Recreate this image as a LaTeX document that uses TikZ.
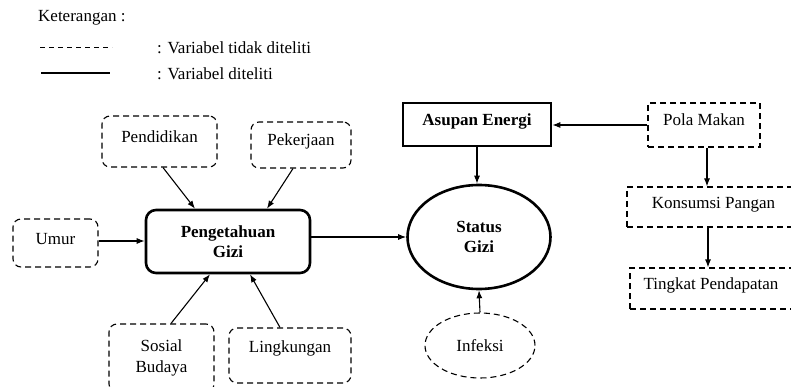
\documentclass[tikz,border=0pt]{standalone}
\usepackage{fontspec}
\setmainfont{Liberation Serif}
\usetikzlibrary{arrows.meta,shapes.geometric}
\tikzset{
  base/.style={font=\fontsize{17}{21}\selectfont, align=center, inner sep=0pt},
  one/.style={text height=12pt, text depth=10pt},
  dbox/.style={base, draw, dashed, dash pattern=on 6pt off 4pt, line width=1.1pt, rounded corners=8pt},
  dsq/.style={base, draw, dashed, dash pattern=on 6pt off 4pt, line width=1.1pt},
  tbox/.style={base, draw, line width=2.6pt, font=\fontsize{17}{20}\selectfont\bfseries},
  arr/.style={line width=1.1pt, -{Latex[length=8pt,width=6pt]}},
  legtext/.style={base, anchor=west}
}
\begin{document}
\begin{tikzpicture}[x=1pt,y=-1pt]
\useasboundingbox (0,0) rectangle (791,387);
\clip (0,0) rectangle (791,387);
\fill[white] (0,0) rectangle (791,387);
% legend
\node[legtext] (ket) at (38,18) {Keterangan :};
\coordinate (l1a) at (40,47); \coordinate (l1b) at (112,47);
\coordinate (l2a) at (41,73); \coordinate (l2b) at (110,73);
\draw[line width=0.9pt, dash pattern=on 5pt off 4pt] (l1a) -- (l1b);
\draw[line width=2pt] (l2a) -- (l2b);
\node[legtext] (lg1) at (157,48) {: Variabel tidak diteliti};
\node[legtext] (lg2) at (157,74) {: Variabel diteliti};
% left cluster
\node[dbox, one, minimum width=115pt, minimum height=51pt] (pend) at (159.5,141.5) {Pendidikan};
\node[dbox, one, minimum width=100pt, minimum height=46pt] (pek) at (301,145) {Pekerjaan};
\node[dbox, one, minimum width=85pt, minimum height=48pt] (umur) at (55.5,243) {Umur};
\node[tbox, rounded corners=10pt, minimum width=164pt, minimum height=63pt] (peng) at (228,241.5) {Pengetahuan\\Gizi};
\node[dbox, minimum width=105pt, minimum height=68pt] (sos) at (161.5,358) {Sosial\\Budaya};
\node[dbox, minimum width=122pt, minimum height=55pt, text height=12pt, text depth=19pt] (ling) at (290,355.5) {Lingkungan};
% middle
\node[tbox, one, minimum width=148pt, minimum height=43pt] (asup) at (477,124.5) {Asupan Energi};
\node[tbox, ellipse, minimum width=143pt, minimum height=104pt] (stat) at (479,237) {Status\\Gizi};
\node[dbox, ellipse, rounded corners=0pt, minimum width=110pt, minimum height=65pt] (inf) at (480,345.5) {Infeksi};
% right
\node[dsq, one, minimum width=112pt, minimum height=44pt] (pola) at (704,125) {Pola Makan};
\node[dsq, one, minimum width=173pt, minimum height=40pt] (kons) at (713.5,207) {Konsumsi Pangan};
\node[dsq, one, minimum width=162pt, minimum height=41pt] (ting) at (711,288.5) {Tingkat Pendapatan};
% connectors
\draw[arr] ([xshift=3.5pt]pend.south) -- ([xshift=-33pt]peng.north);
\draw[arr] ([xshift=-8pt]pek.south) -- ([xshift=39pt]peng.north);
\draw[arr] ([yshift=2pt]umur.east) -- ([yshift=2pt]umur.east -| peng.west);
\draw[arr] ([xshift=9.5pt]sos.north) -- ([xshift=-18pt]peng.south);
\draw[arr] ([xshift=-10pt]ling.north) -- ([xshift=22pt]peng.south);
\draw[arr] (peng.east |- stat.west) -- (stat.west);
\draw[arr] (pola.west) -- (pola.west -| asup.east);
\draw[arr] (asup.south) -- (asup.south |- stat.north);
\draw[arr] (inf.north) -- (stat.south);
\draw[arr] ([xshift=3pt]pola.south) -- ([xshift=3pt]pola.south |- kons.north);
\draw[arr] ([xshift=-5.5pt]kons.south) -- ([xshift=-5.5pt]kons.south |- ting.north);
\end{tikzpicture}
\end{document}
